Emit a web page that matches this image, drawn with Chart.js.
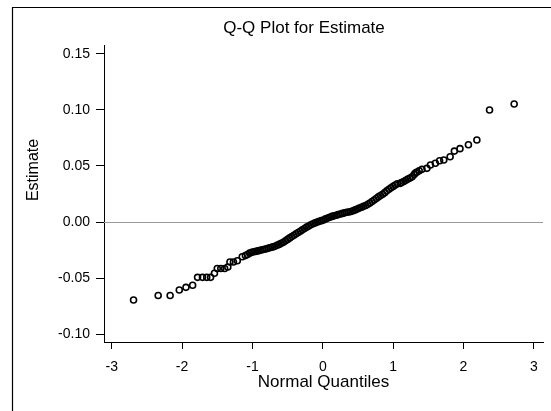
<!DOCTYPE html>
<html>
<head>
<meta charset="utf-8">
<script src="https://cdn.jsdelivr.net/npm/chart.js@4.4.1/dist/chart.umd.min.js"></script>
<style>
  html, body { margin: 0; padding: 0; background: #fff; }
  #wrap { width: 551px; height: 411px; position: relative; }
</style>
</head>
<body>
<div id="wrap"><canvas id="qq"></canvas></div>
<script>
// normal quantiles (x) and estimates (y)
const quantiles = [
  -2.69, -2.34, -2.17, -2.04, -1.945, -1.85, -1.78, -1.71, -1.65, -1.595,
  -1.54, -1.50, -1.45, -1.395, -1.35, -1.32, -1.27, -1.215, -1.145,
  -1.10, -1.07, -1.04, -1.01, -0.98, -0.95, -0.92, -0.89, -0.86, -0.83,
  -0.80, -0.77, -0.74, -0.71, -0.68, -0.65, -0.62, -0.59, -0.56, -0.53,
  -0.50, -0.47, -0.44, -0.41, -0.38, -0.35, -0.32, -0.29, -0.26, -0.23,
  -0.20, -0.17, -0.14, -0.11, -0.08, -0.05, -0.02, 0.01, 0.04, 0.07,
  0.10, 0.13, 0.16, 0.19, 0.22, 0.25, 0.28, 0.31, 0.34, 0.37,
  0.40, 0.43, 0.46, 0.49, 0.52, 0.55, 0.58, 0.61, 0.64, 0.67,
  0.70, 0.73, 0.76, 0.79, 0.82, 0.85, 0.88, 0.91, 0.94, 0.97,
  1.00, 1.03, 1.06, 1.10, 1.12, 1.15, 1.18, 1.21, 1.24, 1.27,
  1.30, 1.32, 1.34, 1.37, 1.41, 1.48, 1.53, 1.60, 1.66, 1.72,
  1.81, 1.87, 1.95, 2.07, 2.19, 2.37, 2.72
];
const estimates = [
  -0.0696, -0.0656, -0.0656, -0.0607, -0.0583, -0.0565, -0.0494, -0.0494, -0.0494, -0.0494,
  -0.0458, -0.0415, -0.0415, -0.0415, -0.0402, -0.0357, -0.0357, -0.0346, -0.0310,
  -0.0300, -0.0290, -0.0278, -0.0270, -0.0266, -0.0262, -0.0258, -0.0252, -0.0248, -0.0243,
  -0.0238, -0.0233, -0.0228, -0.0222, -0.0216, -0.0208, -0.0200, -0.0190, -0.0180, -0.0168,
  -0.0155, -0.0142, -0.0130, -0.0118, -0.0105, -0.0093, -0.0082, -0.0070, -0.0058, -0.0046,
  -0.0035, -0.0025, -0.0016, -0.0008, -0.0001, 0.0006, 0.0012, 0.0018, 0.0028, 0.0036,
  0.0042, 0.0050, 0.0055, 0.0060, 0.0066, 0.0072, 0.0077, 0.0082, 0.0087, 0.0090,
  0.0094, 0.0100, 0.0108, 0.0116, 0.0124, 0.0132, 0.0140, 0.0148, 0.0158, 0.0170,
  0.0183, 0.0196, 0.0210, 0.0224, 0.0236, 0.0248, 0.0262, 0.0278, 0.0292, 0.0305,
  0.0318, 0.0330, 0.0342, 0.0345, 0.0352, 0.0362, 0.0372, 0.0384, 0.0392, 0.0404,
  0.0425, 0.0440, 0.0447, 0.0458, 0.0470, 0.0479, 0.0509, 0.0524, 0.0547, 0.0554,
  0.0583, 0.0633, 0.0655, 0.0690, 0.0732, 0.1000, 0.1054
];
const xTicks = [-3, -2, -1, 0, 1, 2, 3];
const yTicks = [-0.10, -0.05, 0.00, 0.05, 0.10, 0.15];
const refValue = 0;

const FONT = "'Liberation Sans', Arial, sans-serif";

const points = quantiles.map((q, i) => ({ x: q, y: estimates[i] }));

// frame, titles and the reference line at zero
const decor = {
  id: 'decor',
  beforeDatasetsDraw(chart) {
    const { ctx, chartArea, scales } = chart;
    const y0 = Math.round(scales.y.getPixelForValue(refValue)) + 0.5;
    ctx.save();
    ctx.strokeStyle = '#9a9a9a';
    ctx.lineWidth = 1;
    ctx.beginPath();
    ctx.moveTo(chartArea.left, y0);
    ctx.lineTo(chartArea.right, y0);
    ctx.stroke();
    ctx.restore();
  },
  afterDraw(chart) {
    const ctx = chart.ctx;
    ctx.save();
    ctx.strokeStyle = '#000';
    ctx.lineWidth = 1.2;
    ctx.beginPath();
    ctx.moveTo(12.5, 411);
    ctx.lineTo(12.5, 7.5);
    ctx.lineTo(551, 7.5);
    ctx.stroke();

    ctx.fillStyle = '#000';
    ctx.font = '17px ' + FONT;
    ctx.textAlign = 'center';
    ctx.textBaseline = 'alphabetic';
    ctx.fillText('Q-Q Plot for Estimate', 304, 33);

    ctx.font = '16px ' + FONT;
    ctx.translate(38, 170);
    ctx.rotate(-Math.PI / 2);
    ctx.fillText('Estimate', 0, 0);
    ctx.restore();
  }
};

new Chart(document.getElementById('qq'), {
  type: 'scatter',
  data: {
    datasets: [{
      data: points,
      pointStyle: 'circle',
      pointRadius: 3,
      pointBorderWidth: 1.6,
      pointBorderColor: '#000',
      pointBackgroundColor: 'rgba(0,0,0,0)'
    }]
  },
  options: {
    responsive: true,
    maintainAspectRatio: false,
    animation: false,
    events: [],
    layout: { padding: { top: 45, right: 8, left: 0, bottom: 0 } },
    plugins: {
      legend: { display: false },
      tooltip: { enabled: false }
    },
    scales: {
      x: {
        type: 'linear',
        position: 'bottom',
        min: -3.11,
        max: 3.13,
        afterFit: s => { s.height = 69; },
        afterBuildTicks: s => { s.ticks = xTicks.map(v => ({ value: v })); },
        grid: { display: true, drawOnChartArea: false, tickLength: 7, color: '#000', lineWidth: 1 },
        border: { display: true, color: '#000', width: 1 },
        ticks: {
          color: '#000',
          font: { family: FONT, size: 14 },
          padding: 10,
          maxRotation: 0,
          callback: v => String(v)
        },
        title: {
          display: true,
          text: 'Normal Quantiles',
          color: '#000',
          font: { family: FONT, size: 17 },
          padding: { top: 0, bottom: 18 }
        }
      },
      y: {
        type: 'linear',
        position: 'left',
        min: -0.1071,
        max: 0.158,
        afterFit: s => { s.width = 104; },
        afterBuildTicks: s => { s.ticks = yTicks.map(v => ({ value: v })); },
        grid: { display: true, drawOnChartArea: false, tickLength: 8, color: '#000', lineWidth: 1 },
        border: { display: true, color: '#000', width: 1 },
        ticks: {
          color: '#000',
          font: { family: FONT, size: 14 },
          padding: 6,
          callback: v => v.toFixed(2)
        }
      }
    }
  },
  plugins: [decor]
});
</script>
</body>
</html>
